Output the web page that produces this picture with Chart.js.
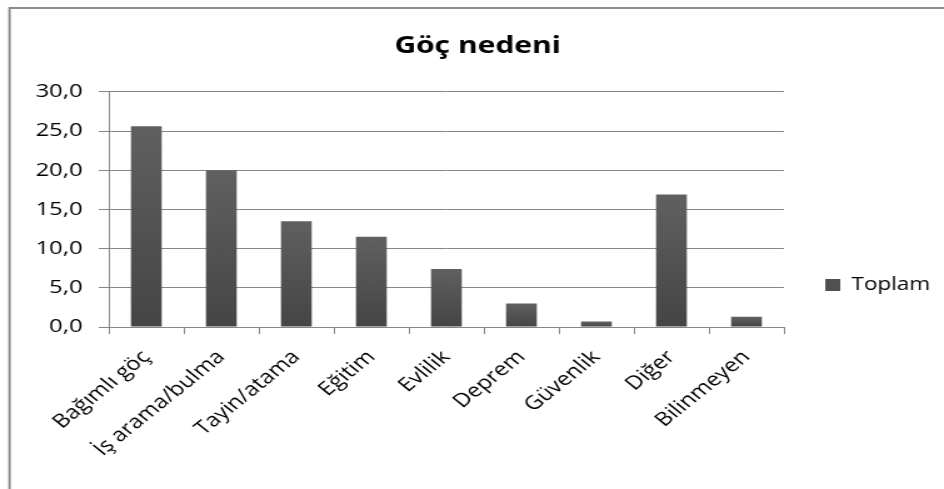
<!DOCTYPE html>
<html>
<head>
<meta charset="utf-8">
<script src="https://cdn.jsdelivr.net/npm/chart.js@4/dist/chart.umd.min.js"></script>
<style>
  html, body { margin: 0; padding: 0; background: #fff; overflow: hidden; }
  #wrap { width: 755px; height: 489px; transform: scaleX(1.2503); transform-origin: 0 0; }
  canvas { display: block; }
</style>
</head>
<body>
<div id="wrap"><canvas id="c" width="755" height="489"></canvas></div>
<script>
const titleText = 'Göç nedeni';
const seriesName = 'Toplam';
const categories = ['Bağımlı göç', 'İş arama/bulma', 'Tayin/atama', 'Eğitim', 'Evlilik', 'Deprem', 'Güvenlik', 'Diğer', 'Bilinmeyen'];
const values = [25.6, 20.0, 13.5, 11.5, 7.4, 3.0, 0.7, 16.9, 1.3];
const yTicks = [0, 5, 10, 15, 20, 25, 30];

const FONT = "'Open Sans', sans-serif";

const framePlugin = {
  id: 'frame',
  beforeDraw(chart) {
    const ctx = chart.ctx;
    ctx.save();
    ctx.fillStyle = '#ffffff';
    ctx.fillRect(0, 0, chart.width, chart.height);
    ctx.strokeStyle = '#8c8c8c';
    ctx.lineWidth = 2;
    ctx.beginPath();
    ctx.moveTo(7.6, chart.height);
    ctx.lineTo(7.6, 8);
    ctx.lineTo(chart.width, 8);
    ctx.stroke();
    ctx.restore();
  }
};

function barGradient(context) {
  const chart = context.chart;
  const area = chart.chartArea;
  if (!area) return '#555555';
  const ys = chart.scales.y;
  const v = context.raw;
  const top = ys.getPixelForValue(v);
  const bottom = ys.getPixelForValue(0);
  if (!isFinite(top) || bottom - top < 1) return '#555555';
  const g = chart.ctx.createLinearGradient(0, top, 0, bottom);
  g.addColorStop(0, '#606060');
  g.addColorStop(1, '#454545');
  return g;
}

new Chart(document.getElementById('c'), {
  type: 'bar',
  data: {
    labels: categories,
    datasets: [{
      label: seriesName,
      data: values,
      backgroundColor: barGradient,
      borderWidth: 0,
      barPercentage: 0.41,
      categoryPercentage: 1.0
    }]
  },
  options: {
    responsive: false,
    animation: false,
    devicePixelRatio: 1,
    layout: { padding: { left: 10, right: 1, top: 0, bottom: 0 } },
    plugins: {
      title: {
        display: true,
        text: titleText,
        color: '#000',
        font: { family: FONT, size: 24, weight: 'bold' },
        padding: { top: 32, bottom: 31 }
      },
      legend: {
        display: true,
        position: 'right',
        align: 'end',
        fullSize: false,
        labels: {
          color: '#000',
          font: { family: FONT, size: 18 },
          boxWidth: 12,
          boxHeight: 12,
          padding: 33,
          generateLabels(chart) {
            return [{
              text: chart.data.datasets[0].label,
              fillStyle: '#505050',
              strokeStyle: '#505050',
              lineWidth: 0,
              datasetIndex: 0,
              hidden: false
            }];
          }
        }
      },
      tooltip: { enabled: false }
    },
    scales: {
      x: {
        offset: true,
        grid: {
          display: true,
          offset: true,
          drawOnChartArea: false,
          drawTicks: true,
          tickLength: 7,
          color: '#878787'
        },
        border: { display: true, color: '#878787', width: 1 },
        ticks: {
          color: '#000',
          font: { family: FONT, size: 19 },
          minRotation: 45,
          maxRotation: 45,
          autoSkip: false,
          padding: 12
        },
        afterFit(scale) { scale.height = 162; }
      },
      y: {
        min: 0,
        max: 30,
        afterBuildTicks(scale) { scale.ticks = yTicks.map(v => ({ value: v })); },
        grid: {
          color: '#878787',
          tickLength: 8,
          drawTicks: true
        },
        border: { display: true, color: '#878787', width: 1 },
        ticks: {
          color: '#000',
          font: { family: FONT, size: 19 },
          padding: 13,
          callback: (v) => Number(v).toFixed(1).replace('.', ',')
        },
        afterFit(scale) { scale.width = 77; }
      }
    }
  },
  plugins: [framePlugin]
});
</script>
</body>
</html>
